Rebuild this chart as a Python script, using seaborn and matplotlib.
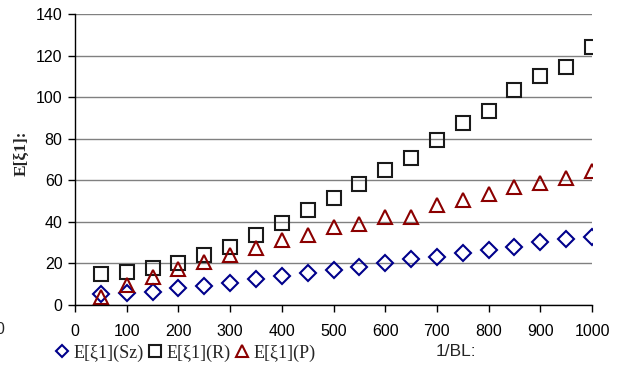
import matplotlib
matplotlib.use("Agg")
import matplotlib.pyplot as plt
import seaborn as sns
from matplotlib.lines import Line2D

# 1/BL values and the three expectation series
inv_bl = [50, 100, 150, 200, 250, 300, 350, 400, 450, 500,
          550, 600, 650, 700, 750, 800, 850, 900, 950, 1000]
e_sz = [5.3, 5.6, 6.4, 8.0, 9.3, 10.7, 12.5, 14.1, 15.5, 16.8,
        18.4, 20.0, 22.0, 23.2, 24.8, 26.4, 28.0, 30.1, 31.6, 32.8]
e_r = [14.9, 15.9, 17.6, 20.0, 24.0, 27.7, 33.6, 39.6, 45.7, 51.3,
       58.0, 65.0, 70.5, 79.6, 87.8, 93.4, 103.4, 110.2, 114.6, 124.0]
e_p = [4.0, 9.6, 13.3, 17.1, 20.8, 24.0, 27.2, 31.2, 33.6, 37.3,
       38.9, 42.2, 42.2, 48.0, 50.5, 53.4, 56.9, 58.5, 60.9, 64.6]

series_labels = ["E[ξ1](Sz)", "E[ξ1](R)", "E[ξ1](P)"]
x_ticks = [0, 100, 200, 300, 400, 500, 600, 700, 800, 900, 1000]
y_ticks = [0, 20, 40, 60, 80, 100, 120, 140]

sns.set_theme(style="white")
plt.rcParams['font.family'] = ['Liberation Sans', 'DejaVu Sans']
serif = ['Liberation Serif', 'DejaVu Serif']

W, H = 620, 369
fig = plt.figure(figsize=(W / 100, H / 100), dpi=100)
ax = fig.add_axes([75 / W, 64 / H, 517 / W, 291 / H])

styles = [
    ("D", 7.8, "#00008B"),
    ("s", 10.0, "#1a1a1a"),
    ("^", 10.5, "#8B0000"),
]

for vals, lab, (mk, ms, col) in zip([e_sz, e_r, e_p], series_labels, styles):
    sns.lineplot(x=inv_bl, y=vals, ax=ax, marker=mk, linestyle='',
                 markersize=ms, markerfacecolor='none',
                 markeredgecolor=col, markeredgewidth=1.5, color=col,
                 legend=False)

ax.set_xlim(0, 1000)
ax.set_ylim(0, 140)
ax.set_xticks(x_ticks)
ax.set_yticks(y_ticks)
ax.set_xlabel("")
ax.set_ylabel("")

ax.yaxis.grid(True, color='#808080', linewidth=1)
ax.xaxis.grid(False)
ax.set_axisbelow(True)
for side in ("top", "right"):
    ax.spines[side].set_visible(False)
for side in ("left", "bottom"):
    ax.spines[side].set_color("black")
    ax.spines[side].set_linewidth(1)
ax.tick_params(axis='both', direction='out', length=5, width=1,
               colors='black', labelsize=11.5, bottom=True, left=True,
               pad=4)
ax.tick_params(axis='x', pad=9)

# legend row along the bottom
handles = [Line2D([], [], marker=mk, linestyle='', markersize=ms * 0.8,
                  markerfacecolor='none', markeredgecolor=col,
                  markeredgewidth=1.5)
           for mk, ms, col in styles]
fig.legend(handles, series_labels, loc='center left',
           bbox_to_anchor=(55 / W, 1 - 353 / H), ncol=3, frameon=False,
           prop={'family': serif, 'size': 13}, handlelength=0.8,
           handletextpad=0.2, columnspacing=0.27, borderpad=0,
           borderaxespad=0)

fig.text(22 / W, 1 - 153 / H, "E[ξ1]:", rotation=90, ha='center',
         va='center', family=serif, fontweight='bold', size=12.5)
fig.text(456 / W, 1 - 352 / H, "1/BL:", ha='center', va='center', size=12.5)
fig.text(0, 1 - 330 / H, "0", ha='center', va='center', size=11.5)

fig.savefig("out.png", dpi=100)
